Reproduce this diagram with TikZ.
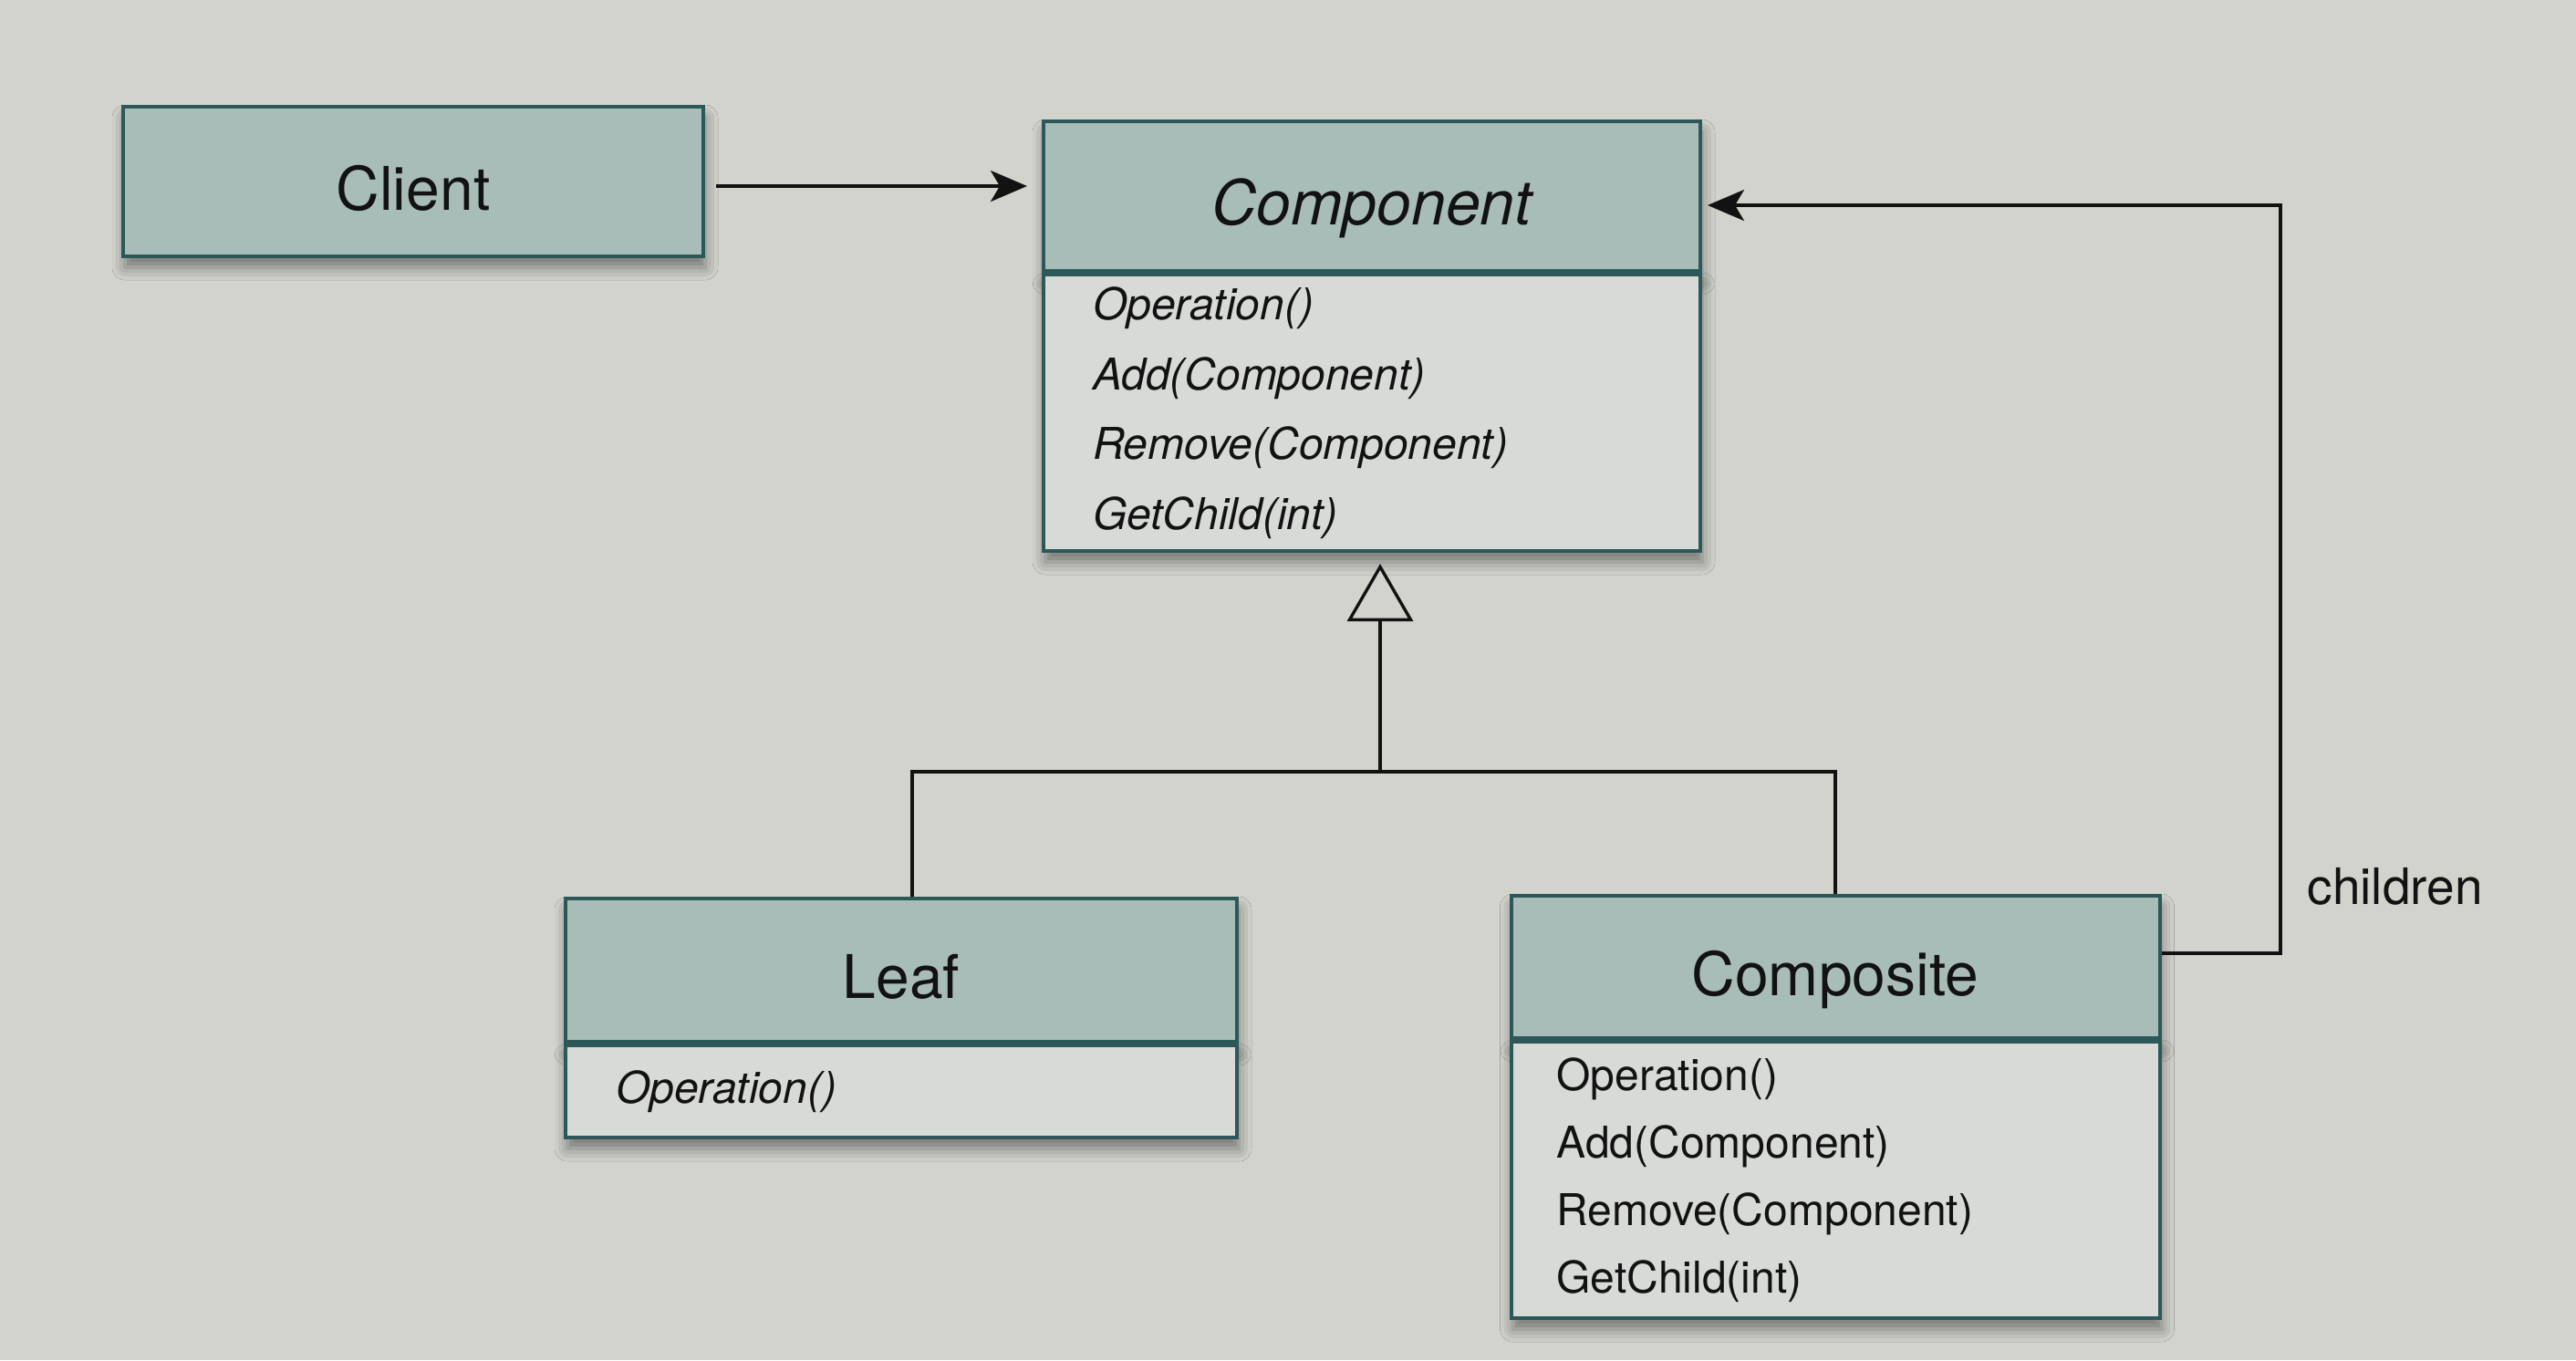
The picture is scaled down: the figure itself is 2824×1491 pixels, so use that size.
\documentclass[tikz,border=0pt]{standalone}
\usepackage{fontspec}
\setmainfont{TeX Gyre Heros}
\usetikzlibrary{arrows.meta,shadows.blur}
\definecolor{paper}{HTML}{D3D3CD}
\definecolor{hdrfill}{HTML}{A9BDB8}
\definecolor{bodyfill}{HTML}{D7DAD6}
\definecolor{edge}{HTML}{2C5859}
\definecolor{ink}{HTML}{121212}
\tikzset{
 box/.style={draw=edge, line width=4pt, rectangle, inner sep=0pt, text=ink,
   blur shadow={shadow xshift=2pt, shadow yshift=-12pt, shadow blur radius=14pt, shadow opacity=45}},
 hdr/.style={box, fill=hdrfill, font=\fontsize{66}{79}\selectfont, text height=62pt, text depth=0pt},
 classbody/.style={box, fill=bodyfill, align=left, anchor=north},
 conn/.style={draw=ink, line width=3.4pt},
 arr/.style={conn, -{Stealth[length=40pt,width=34pt,inset=10pt]}},
 gen/.style={conn, -{Triangle[open, length=63pt, width=72pt, fill=paper]}},
}
\begin{document}
\begin{tikzpicture}[x=1pt,y=-1pt]
\useasboundingbox (0,0) rectangle (2824,1491);
\fill[paper] (0,0) rectangle (2824,1491);

% Client
\node[hdr, minimum width=636pt, minimum height=164pt] (client) at (453,199) {Client};

% Component
\node[hdr, minimum width=720pt, minimum height=164pt, font=\fontsize{68}{80}\selectfont] (comp) at (1504,215) {\itshape Component};
\node[classbody, minimum width=720pt, minimum height=303pt, text width=612pt, inner xsep=54pt,
  font=\fontsize{48}{76.5}\selectfont] (compb) at (comp.south)
  {\itshape Operation()\\ Add(Component)\\ Remove(Component)\\ GetChild(int)};

% Leaf
\node[hdr, minimum width=736pt, minimum height=157pt] (leaf) at (988,1063.5) {Leaf};
\node[classbody, minimum width=736pt, minimum height=101pt, text width=626pt, inner xsep=55pt,
  font=\fontsize{48}{74}\selectfont] (leafb) at (leaf.south) {\itshape Operation()};

% Composite
\node[hdr, minimum width=711pt, minimum height=156pt] (compo) at (2012,1060) {Composite};
\node[classbody, minimum width=711pt, minimum height=303pt, text width=611pt, inner xsep=50pt,
  font=\fontsize{48}{74}\selectfont] (compob) at (compo.south)
  {Operation()\\ Add(Component)\\ Remove(Component)\\ GetChild(int)};

% children label
\node[anchor=west, text=ink, font=\fontsize{55}{66}\selectfont] (lbl) at (2526,972) {children};

% Client -> Component
\draw[arr, shorten <=12pt, shorten >=16pt] ([yshift=-5pt]client.east) -- ([yshift=-5pt]client.east -| comp.west);

% Composite -> Component (children)
\coordinate (cb) at (2500,1045);
\coordinate (ct) at (2500,225);
\coordinate (ce) at (1864,225);
\draw[arr, shorten >=8pt] ([yshift=15pt]compo.east) -- (cb) -- (ct) -- (ce);

% Generalization
\coordinate (j) at (1513,846);
\coordinate (jl) at (1000,846);
\coordinate (jr) at (2012,846);
\draw[conn] (leaf.north -| jl) -- (jl) -- (jr) -- (compo.north -| jr);
\draw[gen, shorten >=12pt] (j) -- (j |- compb.south);
\end{tikzpicture}
\end{document}
